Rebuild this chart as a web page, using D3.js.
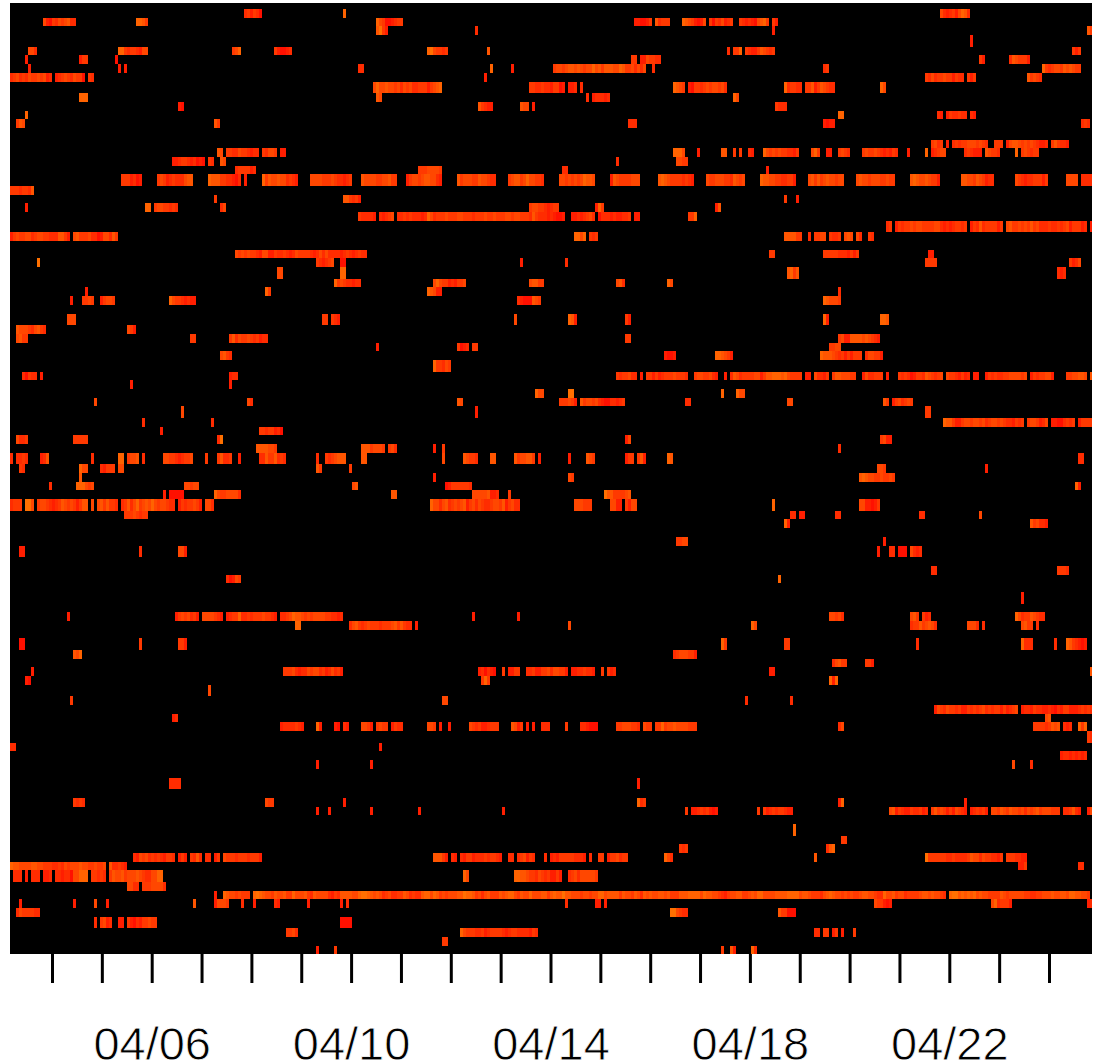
<!DOCTYPE html>
<html lang="en">
<head>
  <meta charset="UTF-8">
  <title>Activity heat map</title>
  <script src="https://d3js.org/d3.v7.min.js"></script>
</head>
<style>
  body {
    margin: 0;
    background: #fff;
  }
  svg {
    display: block;
  }
  .tick line {
    stroke: #000;
    stroke-width: 3px;
  }
  .tick text {
    font-family: "Liberation Sans", sans-serif;
    font-size: 47px;
    fill: #000;
    stroke: #fff;
    stroke-width: 0.8px;
  }
</style>
<body>
<div class="chart"></div>
<script>
  var rowCount = 102;
  var sampleCount = 360.67;
  var firstSample = new Date(Date.UTC(2010, 3, 3, 3, 47));
  var lastSample = new Date(Date.UTC(2010, 3, 24, 20, 42));
  var tickLabels = ['04/06', '04/10', '04/14', '04/18', '04/22'];

  /** each run: row, first sample, one digit per sample (0 = red ... 9 = orange) */
  var runs = [
    [0,78,'231320'],[0,111,'6'],[0,310,'4212314652'],
    [1,11,'41032434522'],[1,42,'6653'],[1,122,'643001233'],[1,208,'110013'],[1,215,'52333'],[1,224,'65431014'],[1,233,'30324123'],[1,243,'3212104563'],[1,254,'31'],
    [2,122,'5731'],[2,155,'2'],[2,254,'1'],[2,359,'53'],
    [3,320,'1'],
    [4,6,'442'],[4,36,'663233214'],[4,45,'4'],[4,74,'346'],[4,88,'310012'],[4,139,'6743323'],[4,159,'5'],[4,239,'2'],[4,241,'336'],[4,245,'32113'],[4,250,'54323'],[4,354,'313'],
    [5,5,'1'],[5,23,'133'],[5,35,'0'],[5,207,'33'],[5,210,'1143322'],[5,323,'31'],[5,333,'254333'],[5,339,'1'],
    [6,6,'1'],[6,36,'1'],[6,38,'1'],[6,116,'22'],[6,160,'6'],[6,167,'1'],[6,181,'34434554543446453'],[6,198,'55544653342424'],[6,214,'2'],[6,271,'23'],[6,344,'6323443545433'],
    [7,0,'23423243343412'],[7,15,'1234324330'],[7,26,'32'],[7,158,'1'],[7,305,'32423343'],[7,313,'31322'],[7,319,'313'],[7,339,'53432'],
    [8,121,'46445443424342233313456'],[8,173,'332232213301'],[8,186,'112'],[8,190,'2'],[8,221,'6543'],[8,226,'1033234344342'],[8,258,'623322'],[8,265,'3351354322'],[8,290,'64'],
    [9,23,'666'],[9,122,'54'],[9,192,'2'],[9,194,'122212'],[9,241,'64'],
    [10,56,'10'],[10,156,'53211'],[10,170,'544'],[10,174,'1'],[10,255,'3222'],
    [11,5,'6'],[11,276,'66'],[11,309,'21'],[11,312,'1322322'],[11,320,'21'],
    [12,2,'354'],[12,68,'53'],[12,206,'222'],[12,271,'1011'],[12,357,'232'],
    [14,307,'3423'],[14,312,'1'],[14,314,'232334443432'],[14,328,'333'],[14,332,'145543434321'],[14,344,'12'],[14,347,'353221'],
    [15,69,'54'],[15,72,'33224332122'],[15,84,'32443'],[15,90,'11'],[15,221,'6664'],[15,229,'1'],[15,237,'55'],[15,241,'3'],[15,243,'3'],[15,246,'21'],[15,251,'643434332213'],[15,267,'463'],[15,272,'11'],[15,276,'3432'],[15,284,'343343212132'],[15,299,'1'],[15,305,'6'],[15,307,'123'],[15,310,'44'],[15,318,'232111'],[15,325,'54332'],[15,335,'6'],[15,337,'343233'],
    [16,54,'11233212010'],[16,66,'32'],[16,70,'54'],[16,202,'2'],[16,222,'4433'],
    [17,75,'2333312'],[17,136,'33344443'],[17,184,'22'],[17,252,'1'],
    [18,37,'3331201'],[18,49,'343123222455'],[18,66,'65553322102'],[18,78,'1'],[18,84,'635445442321'],[18,100,'44443334322123'],[18,117,'544443344533'],[18,132,'134434554421'],[18,149,'5344433544322'],[18,166,'345534644332'],[18,183,'443434346554'],[18,200,'1543333444'],[18,216,'565433332321'],[18,232,'4334443325434'],[18,250,'655443322331'],[18,266,'453534544344'],[18,282,'4544344433433'],[18,300,'5654454331'],[18,317,'55443543122'],[18,335,'43212233'],[18,343,'313'],[18,352,'4444'],[18,357,'2222'],
    [19,0,'33323325'],
    [20,68,'3'],[20,111,'553231'],[20,258,'3'],[20,262,'1'],
    [21,5,'1'],[21,45,'66'],[21,48,'34433232'],[21,70,'24'],[21,173,'3443321233'],[21,195,'163'],[21,235,'15'],
    [22,116,'322'],[22,119,'221'],[22,123,'21234'],[22,129,'22323222126423334333443332333433433344344333253222121001'],[22,187,'11212342'],[22,196,'02221211223'],[22,208,'11'],[22,226,'336'],
    [23,292,'23'],[23,295,'132334344333344212123323'],[23,320,'13252333313'],[23,332,'453343435342223223234133312'],[23,360,'1'],
    [24,0,'13433442344332225531'],[24,21,'453334220144253'],[24,188,'6646'],[24,193,'323'],[24,258,'555533'],[24,266,'2'],[24,268,'3344'],[24,273,'3223'],[24,278,'454'],[24,282,'42'],[24,286,'32'],
    [26,75,'43434332144113223212433332124242222123212322'],[26,253,'33'],[26,271,'333332221313'],[26,306,'11'],
    [27,9,'7'],[27,102,'321234'],[27,110,'00'],[27,170,'1'],[27,185,'2'],[27,305,'3333'],[27,353,'3124'],
    [28,89,'44'],[28,110,'66'],[28,259,'5635'],[28,349,'212'],
    [29,108,'634322122'],[29,141,'46433121334'],[29,173,'45533'],[29,202,'452'],[29,219,'64'],
    [30,25,'1'],[30,85,'63'],[30,139,'65411'],[30,276,'2'],
    [31,20,'1'],[31,24,'3343'],[31,30,'13443'],[31,53,'643321211'],[31,169,'21000543'],[31,271,'654443'],
    [33,19,'444'],[33,104,'33'],[33,107,'321'],[33,168,'4'],[33,186,'651'],[33,205,'31'],[33,271,'61'],[33,290,'665'],
    [34,2,'5444324532'],[34,39,'431'],
    [35,2,'4533'],[35,60,'33'],[35,73,'3524334323122'],[35,205,'33'],[35,276,'34115555454321'],
    [36,122,'1'],[36,149,'3012'],[36,154,'33'],[36,273,'3344'],
    [37,70,'4532'],[37,218,'1001'],[37,235,'665431'],[37,270,'65554323131333'],[37,285,'244331'],
    [38,141,'633243'],
    [39,4,'20322'],[39,10,'1'],[39,73,'122'],[39,202,'3233422'],[39,210,'1'],[39,212,'33131233343332'],[39,228,'34433421'],[39,238,'1'],[39,240,'2'],[39,241,'54233334413556665643333'],[39,265,'11'],[39,268,'42213'],[39,274,'35544433'],[39,284,'1422333'],[39,292,'1'],[39,296,'323201332543234'],[39,312,'43321312'],[39,321,'11'],[39,325,'13232233444434'],[39,340,'13233441'],[39,352,'3344554'],[39,360,'5'],
    [40,40,'1'],[40,73,'1'],
    [41,175,'644'],[41,186,'77'],[41,237,'6'],[41,242,'644'],
    [42,28,'4'],[42,79,'42'],[42,149,'54'],[42,183,'333431'],[42,190,'534434210022123'],[42,225,'22'],[42,259,'44'],[42,291,'53'],[42,294,'1342343'],
    [43,57,'4'],[43,155,'1'],[43,305,'33'],
    [44,44,'2'],[44,67,'2'],[44,311,'655311344344342344343221323'],[44,339,'3443124'],[44,347,'11002323'],[44,356,'13333'],
    [45,50,'1'],[45,83,'33233120'],
    [46,2,'4223'],[46,21,'33333'],[46,69,'27'],[46,205,'14'],[46,290,'3411'],
    [47,82,'5555443'],[47,117,'55'],[47,119,'534443'],[47,126,'342'],[47,141,'1'],[47,144,'3'],[47,276,'2'],
    [48,0,'2'],[48,2,'2232'],[48,10,'125'],[48,27,'2'],[48,36,'66'],[48,39,'3445'],[48,44,'2'],[48,51,'4433212334'],[48,65,'3'],[48,69,'35223'],[48,76,'1'],[48,83,'225335232'],[48,102,'2'],[48,105,'3234555'],[48,117,'55'],[48,144,'4'],[48,151,'54332'],[48,160,'55'],[48,168,'5344553'],[48,176,'1'],[48,186,'1'],[48,192,'543'],[48,205,'133'],[48,209,'351'],[48,219,'65'],[48,356,'22'],
    [49,3,'32'],[49,23,'644'],[49,30,'21333'],[49,36,'44'],[49,102,'53'],[49,113,'3'],[49,289,'443'],[49,325,'1'],
    [50,23,'5'],[50,141,'1'],[50,186,'43'],[50,283,'565443343343'],
    [51,13,'2'],[51,22,'666434'],[51,58,'44344'],[51,114,'45'],[51,145,'013333332'],[51,355,'61'],
    [52,51,'1'],[52,53,'00000'],[52,68,'643344442'],[52,127,'55'],[52,154,'4444451'],[52,161,'12'],[52,166,'3'],[52,198,'755333345'],
    [53,0,'2333'],[53,5,'774'],[53,9,'34432123543431355'],[53,27,'4'],[53,29,'4535332'],[53,37,'235246345464344322'],[53,56,'13233431'],[53,65,'442'],[53,140,'644245234345134243223443513422'],[53,188,'444333'],[53,200,'4411'],[53,205,'3144'],[53,254,'6'],[53,283,'4411013'],
    [54,38,'33343233'],[54,260,'22'],[54,263,'11'],[54,275,'22'],[54,303,'22'],[54,323,'4'],
    [55,258,'61'],[55,340,'534221'],
    [57,222,'3344'],[57,291,'1'],
    [58,3,'11'],[58,43,'2'],[58,56,'441'],[58,289,'1'],[58,293,'22'],[58,296,'000'],[58,300,'4212'],
    [60,307,'22'],[60,349,'3332'],
    [61,72,'20143'],[61,256,'6'],
    [63,337,'1'],
    [65,19,'1'],[65,55,'13434231'],[65,64,'4444321'],[65,72,'1233622323'],[65,82,'3343321'],[65,90,'223465543434444332212'],[65,154,'1'],[65,169,'1'],[65,273,'44342'],[65,300,'453'],[65,304,'312'],[65,335,'6423354322'],
    [66,95,'66'],[66,113,'245323'],[66,119,'433323334535322'],[66,135,'1'],[66,186,'4'],[66,247,'64'],[66,300,'233534542'],[66,319,'4442'],[66,324,'2'],[66,337,'4533'],[66,342,'2'],
    [68,3,'00'],[68,43,'3'],[68,56,'331'],[68,237,'63'],[68,258,'33'],[68,302,'2'],[68,337,'6222'],[68,348,'2'],[68,352,'6532101'],
    [69,21,'546'],[69,221,'23444331'],
    [70,274,'24533'],[70,285,'331'],
    [71,7,'1'],[71,91,'33342122434423124231'],[71,156,'120210'],[71,164,'3'],[71,166,'1133'],[71,172,'22311334244331'],[71,187,'11223221'],[71,197,'3'],[71,199,'312'],[71,253,'11'],[71,360,'5'],
    [72,5,'10'],[72,157,'363'],[72,273,'616'],
    [73,66,'4'],
    [74,20,'3'],[74,144,'44'],[74,245,'2'],[74,260,'2'],
    [75,308,'1432433231132323423233131234'],[75,337,'122132211210213311123232'],
    [76,54,'1'],[76,55,'2'],[76,345,'45'],
    [77,90,'12222321'],[77,102,'61'],[77,108,'10'],[77,111,'21'],[77,117,'44'],[77,119,'31'],[77,122,'3433'],[77,127,'1322'],[77,139,'443'],[77,143,'1'],[77,146,'1'],[77,153,'4323112333'],[77,167,'5413'],[77,172,'1'],[77,174,'1'],[77,177,'222'],[77,185,'3'],[77,190,'221000'],[77,202,'33444332'],[77,211,'433'],[77,215,'3363'],[77,219,'4454444333'],[77,276,'24'],[77,341,'333323545'],[77,351,'212'],[77,356,'636'],
    [78,359,'32'],
    [79,0,'22'],[79,123,'1'],
    [80,350,'122121212'],
    [81,102,'1'],[81,120,'1'],[81,334,'4'],[81,340,'2'],
    [83,53,'2222'],[83,209,'1'],
    [85,21,'3232'],[85,85,'433'],[85,111,'1'],[85,209,'623'],[85,276,'16'],[85,318,'1'],
    [86,102,'1'],[86,106,'1'],[86,120,'1'],[86,136,'1'],[86,164,'1'],[86,225,'3'],[86,227,'1'],[86,228,'12323101'],[86,249,'3'],[86,251,'3123233211'],[86,293,'4513211322312'],[86,307,'353431314321'],[86,320,'123231'],[86,327,'44354354434243453444333'],[86,351,'223521'],[86,359,'14'],
    [88,261,'6'],
    [89,277,'33'],
    [90,223,'323'],[90,272,'256'],
    [91,41,'21434232321332'],[91,56,'131'],[91,60,'3252'],[91,65,'22'],[91,68,'13'],[91,71,'4333233323331'],[91,141,'55531'],[91,147,'21'],[91,150,'21331222323321'],[91,166,'22'],[91,169,'234132'],[91,178,'2'],[91,180,'121333332221'],[91,193,'2'],[91,196,'33'],[91,199,'1334233'],[91,218,'642'],[91,268,'5'],[91,305,'73333332'],[91,313,'232222354424332213'],[91,332,'3332211'],
    [92,0,'65544445544333223243444544334334'],[92,33,'522321'],[92,336,'113'],[92,356,'22'],
    [93,1,'222'],[93,5,'1'],[93,7,'222'],[93,11,'112'],[93,15,'22122044666'],[93,27,'33232'],[93,33,'354453444543224466'],[93,151,'64'],[93,168,'6655433243231131'],[93,186,'2342444443'],
    [94,39,'4422'],[94,44,'33344442'],
    [95,68,'1'],[95,71,'654434333'],
    [95,81,'6765443544'+'5336444532'+'5444421325'+'5554467765'+'4542342233'+'5423225664'+'6534344455'+'7665342453'+'3354566435'+'4464445535'+'6557554443'+'4434466455'+'5535443542'+'5454455453'+'3355566664'+'6554432134'+'4553345466'+'4444555566'+'6645543332'+'4565443434'+'3345544322'+'6445344233'+'3345545443'+'2'],
    [95,313,'6775656564'+'5443333543'+'4444433223'+'3444544554'+'6655443'],
    [96,3,'1'],[96,21,'1'],[96,28,'4'],[96,32,'1'],[96,61,'5'],[96,68,'14443'],[96,77,'2'],[96,81,'1'],[96,88,'21'],[96,99,'1'],[96,110,'1'],[96,112,'2'],[96,185,'2'],[96,195,'11'],[96,198,'1'],[96,288,'433101'],[96,327,'4623331'],[96,359,'12'],
    [97,2,'24333322'],[97,220,'774322'],[97,256,'533000'],
    [98,28,'2'],[98,30,'3412'],[98,36,'11'],[98,39,'31021'],[98,44,'33433'],[98,110,'0000'],
    [99,92,'3342'],[99,150,'64333223123333212332222132'],[99,268,'22'],[99,271,'33'],[99,274,'13'],[99,277,'1'],[99,281,'3'],
    [100,144,'33'],
    [101,102,'1'],[101,108,'3'],[101,237,'3'],[101,240,'5'],[101,241,'1'],[101,247,'62']
  ];

  var width = 1099;
  var height = 1063;
  var plotLeft = 10;
  var plotRight = 1092;
  var plotTop = 3;
  var rowTop = 9;
  var plotBottom = 954;

  var x = d3.scaleLinear().domain([0, sampleCount]).range([plotLeft, plotRight]);
  var xTime = d3.scaleUtc().domain([firstSample, lastSample]).range([plotLeft, plotRight]);
  var color = d3.scaleLinear().domain([0, 9]).range(['#ff1000', '#ff8c00']);
  var formatDay = d3.utcFormat('%m/%d');

  /** rows are 3.2 image pixels high in the original, so every 5th row comes out thicker */
  var rowBand = d3.scaleBand().domain(d3.range(rowCount + 1)).range([0, 3.2 * (rowCount + 1)]);
  var imagePixel = d3.scaleLinear().domain([0, 326]).range([rowTop, plotBottom + 0.4]);
  function y(row) {
    return imagePixel(Math.floor(rowBand(row) + 0.2));
  }

  var svg_selection = d3.select('.chart')
    .append('svg')
    .attr('width', width)
    .attr('height', height);

  svg_selection.append('rect')
    .attr('x', plotLeft)
    .attr('y', plotTop)
    .attr('width', plotRight - plotLeft)
    .attr('height', plotBottom - plotTop)
    .attr('fill', '#000');

  /** turn every run into one rect per sample */
  var cells = runs.flatMap(function (run) {
    return run[2].split('').map(function (level, i) {
      return { row: run[0], sample: run[1] + i, level: +level };
    });
  });

  svg_selection.selectAll('.cell')
    .data(cells)
    .enter()
    .append('rect')
    .classed('cell', true)
    .attr('shape-rendering', 'crispEdges')
    .attr('x', function (d) { return x(d.sample); })
    .attr('y', function (d) { return y(d.row); })
    .attr('width', function (d) { return Math.min(x(d.sample + 1), plotRight) - x(d.sample); })
    .attr('height', function (d) { return Math.min(y(d.row + 1), plotBottom) - y(d.row); })
    .attr('fill', function (d) { return color(d.level); });

  var axis = d3.axisBottom(xTime)
    .ticks(d3.utcDay.every(1))
    .tickSize(29)
    .tickPadding(44)
    .tickFormat(function (d) {
      var label = formatDay(d);
      return tickLabels.indexOf(label) >= 0 ? label : '';
    });

  var axis_selection = svg_selection.append('g')
    .attr('transform', 'translate(0,' + plotBottom + ')')
    .call(axis);

  axis_selection.select('.domain').remove();
</script>
</body>
</html>
